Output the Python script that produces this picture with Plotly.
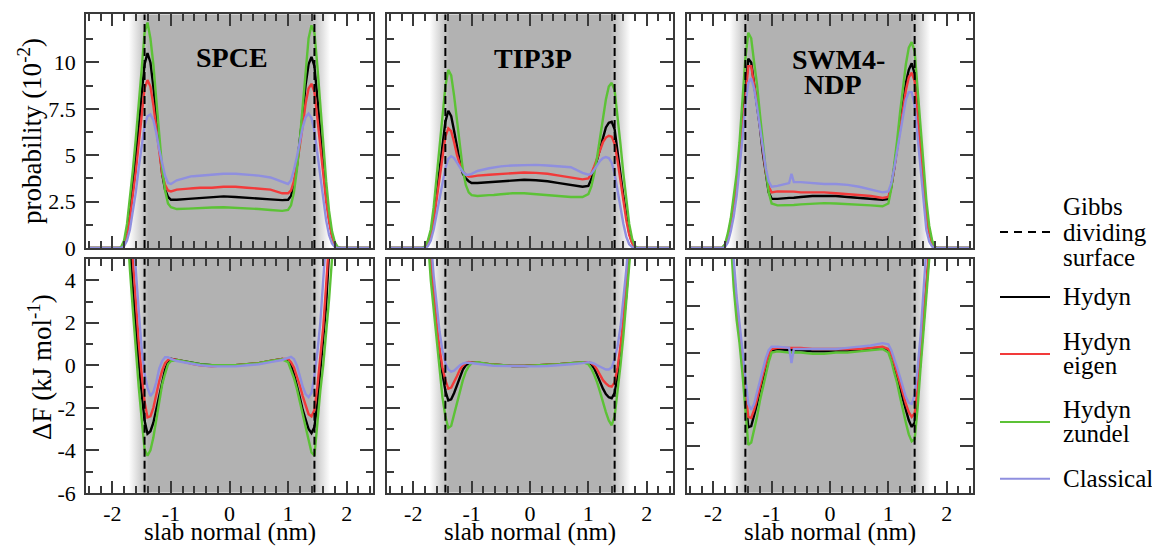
import plotly.graph_objects as go

# ---------------- data ----------------
X_P = [-2.4, -1.9, -1.85, -1.8, -1.75, -1.7, -1.65, -1.6, -1.55, -1.5, -1.45, -1.4, -1.35, -1.3, -1.25, -1.2, -1.15, -1.1, -1.05, -1.0,
       -0.9, -0.7, -0.66, -0.62, -0.5, -0.3, -0.1, 0.1, 0.3, 0.5, 0.7, 0.9,
       1.0, 1.05, 1.1, 1.15, 1.2, 1.25, 1.3, 1.35, 1.4, 1.45, 1.5, 1.55, 1.6, 1.65, 1.7, 1.75, 1.8, 1.85, 1.9, 2.4]

X_F = [-1.8, -1.75, -1.7, -1.65, -1.6, -1.55, -1.5, -1.45, -1.4, -1.35, -1.3, -1.25, -1.2, -1.15, -1.1, -1.05, -1.0,
       -0.9, -0.7, -0.66, -0.62, -0.5, -0.3, -0.1, 0.1, 0.3, 0.5, 0.7, 0.9,
       1.0, 1.05, 1.1, 1.15, 1.2, 1.25, 1.3, 1.35, 1.4, 1.45, 1.5, 1.55, 1.6, 1.65, 1.7, 1.75, 1.8]

# probability (10^-2)
SPCE_P_HYDYN = [0, 0, 0.02, 0.25, 0.9, 2.0, 3.4, 4.9, 6.5, 8.3, 9.9, 10.5, 10.0, 8.7, 7.0, 5.3, 4.0, 3.15, 2.75, 2.6,
                2.6, 2.65, 2.66, 2.67, 2.7, 2.75, 2.78, 2.75, 2.72, 2.68, 2.62, 2.58,
                2.6, 2.8, 3.4, 4.4, 5.7, 7.2, 8.8, 9.9, 10.3, 9.8, 8.1, 6.2, 4.5, 2.9, 1.6, 0.7, 0.2, 0.03, 0, 0]
SPCE_P_EIGEN = [0, 0, 0.02, 0.2, 0.7, 1.6, 2.8, 4.1, 5.6, 7.2, 8.6, 9.05, 8.7, 7.7, 6.4, 5.1, 4.0, 3.4, 3.1, 3.05,
                3.15, 3.2, 3.2, 3.22, 3.25, 3.25, 3.3, 3.3, 3.25, 3.2, 3.15, 2.95,
                2.95, 3.1, 3.6, 4.4, 5.4, 6.6, 7.8, 8.6, 8.85, 8.4, 7.0, 5.4, 3.9, 2.5, 1.4, 0.6, 0.15, 0.02, 0, 0]
SPCE_P_ZUNDEL = [0, 0, 0.05, 0.4, 1.3, 2.7, 4.2, 5.9, 7.6, 9.6, 11.6, 12.15, 11.3, 9.9, 8.0, 6.0, 4.3, 3.1, 2.4, 2.2,
                 2.1, 2.12, 2.13, 2.14, 2.15, 2.18, 2.2, 2.18, 2.15, 2.1, 2.05, 2.0,
                 2.05, 2.3, 3.0, 4.2, 5.8, 7.7, 9.7, 11.3, 12.0, 11.6, 9.8, 7.6, 5.4, 3.6, 2.0, 0.9, 0.3, 0.05, 0, 0]
SPCE_P_CLASSICAL = [0, 0, 0, 0.1, 0.4, 1.0, 1.9, 3.0, 4.3, 5.6, 6.6, 7.1, 7.2, 6.9, 6.2, 5.3, 4.5, 3.9, 3.5, 3.45,
                    3.65, 3.85, 3.86, 3.87, 3.9, 3.95, 4.0, 4.0, 3.95, 3.9, 3.8, 3.55,
                    3.45, 3.65, 4.2, 4.9, 5.7, 6.5, 7.05, 7.25, 7.0, 6.3, 5.1, 3.8, 2.6, 1.5, 0.7, 0.25, 0.05, 0, 0, 0]

TIP3P_P_HYDYN = [0, 0, 0, 0.05, 0.3, 0.8, 1.7, 2.9, 4.2, 5.6, 6.8, 7.4, 7.1, 6.3, 5.4, 4.6, 4.0, 3.75, 3.6, 3.5,
                 3.5, 3.55, 3.56, 3.57, 3.6, 3.65, 3.68, 3.65, 3.6, 3.5, 3.4, 3.3,
                 3.35, 3.7, 4.2, 4.8, 5.4, 6.0, 6.5, 6.75, 6.8, 6.4, 5.3, 4.0, 2.8, 1.7, 0.8, 0.3, 0.05, 0, 0, 0]
TIP3P_P_EIGEN = [0, 0, 0, 0.05, 0.25, 0.7, 1.5, 2.6, 3.8, 5.0, 6.0, 6.45, 6.3, 5.7, 5.0, 4.5, 4.1, 3.95, 3.85, 3.85,
                 3.9, 3.95, 3.96, 3.97, 4.0, 4.05, 4.07, 4.05, 4.0, 3.9, 3.8, 3.7,
                 3.75, 4.0, 4.4, 4.85, 5.3, 5.7, 5.95, 6.05, 6.0, 5.6, 4.7, 3.6, 2.5, 1.5, 0.7, 0.25, 0.05, 0, 0, 0]
TIP3P_P_ZUNDEL = [0, 0, 0, 0.1, 0.4, 1.0, 2.2, 3.8, 5.5, 7.2, 8.7, 9.6, 9.3, 8.2, 6.8, 5.4, 4.2, 3.4, 3.0, 2.85,
                  2.8, 2.85, 2.85, 2.86, 2.9, 2.95, 2.95, 2.9, 2.85, 2.8, 2.75, 2.75,
                  2.9, 3.3, 4.0, 4.9, 5.9, 7.0, 8.0, 8.7, 8.9, 8.5, 7.2, 5.6, 4.0, 2.5, 1.3, 0.5, 0.1, 0, 0, 0]
TIP3P_P_CLASSICAL = [0, 0, 0, 0, 0.1, 0.4, 1.0, 1.8, 2.7, 3.6, 4.3, 4.8, 4.95, 4.85, 4.6, 4.3, 4.1, 3.95, 3.95, 4.0,
                     4.15, 4.3, 4.32, 4.34, 4.4, 4.45, 4.48, 4.48, 4.45, 4.4, 4.35, 4.05,
                     3.95, 4.0, 4.2, 4.45, 4.7, 4.85, 4.9, 4.85, 4.6, 4.0, 3.1, 2.1, 1.3, 0.6, 0.2, 0.05, 0, 0, 0, 0]

SWM4_P_HYDYN = [0, 0, 0, 0.15, 0.6, 1.4, 2.4, 3.5, 5.0, 6.8, 8.8, 10.2, 10.0, 8.9, 7.8, 6.5, 5.1, 3.9, 3.0, 2.65,
                2.65, 2.7, 2.7, 2.71, 2.75, 2.8, 2.8, 2.8, 2.75, 2.7, 2.65, 2.6,
                2.65, 3.3, 4.3, 5.5, 6.7, 7.9, 8.9, 9.6, 9.95, 9.4, 7.6, 5.5, 3.6, 2.0, 0.9, 0.3, 0.05, 0, 0, 0]
SWM4_P_EIGEN = [0, 0, 0, 0.15, 0.55, 1.3, 2.3, 3.4, 4.9, 6.6, 8.5, 9.8, 9.8, 8.9, 7.8, 6.6, 5.3, 4.1, 3.3, 3.0,
                3.05, 3.05, 3.05, 3.04, 3.0, 3.0, 3.0, 2.95, 2.9, 2.85, 2.8, 2.7,
                2.75, 3.3, 4.2, 5.3, 6.4, 7.5, 8.5, 9.2, 9.45, 9.0, 7.4, 5.4, 3.5, 1.9, 0.8, 0.25, 0.05, 0, 0, 0]
SWM4_P_ZUNDEL = [0, 0, 0, 0.2, 0.8, 1.6, 2.7, 4.0, 5.7, 7.8, 10.2, 11.6, 11.3, 10.0, 8.8, 7.2, 5.6, 4.2, 3.0, 2.4,
                 2.3, 2.3, 2.3, 2.32, 2.35, 2.4, 2.42, 2.4, 2.38, 2.35, 2.3, 2.25,
                 2.4, 3.2, 4.4, 5.8, 7.3, 8.7, 9.9, 10.8, 11.1, 10.6, 8.8, 6.6, 4.6, 2.6, 1.2, 0.4, 0.05, 0, 0, 0]
SWM4_P_CLASSICAL = [0, 0, 0, 0.05, 0.3, 0.9, 1.7, 2.8, 4.2, 5.9, 7.7, 8.9, 9.15, 8.6, 7.6, 6.5, 5.3, 4.3, 3.6, 3.3,
                    3.35, 3.5, 4.0, 3.55, 3.55, 3.5, 3.45, 3.45, 3.4, 3.3, 3.15, 3.0,
                    3.05, 3.5, 4.3, 5.2, 6.2, 7.2, 8.0, 8.4, 8.4, 7.7, 6.0, 4.0, 2.3, 1.0, 0.35, 0.08, 0, 0, 0, 0]

# free energy (kJ/mol)
SPCE_F_HYDYN = [10, 7.5, 5.6, 3.6, 1.8, 0.15, -1.3, -2.6, -3.22, -3.1, -2.7, -2.1, -1.4, -0.8, -0.2, 0.15, 0.3,
                0.25, 0.15, 0.13, 0.12, 0.05, 0.0, 0.0, 0.0, 0.05, 0.1, 0.2, 0.3,
                0.25, 0.0, -0.4, -0.9, -1.5, -2.1, -2.6, -3.0, -3.19, -2.9, -1.8, -0.3, 1.2, 2.8, 5.3, 7.5, 10]
SPCE_F_EIGEN = [11, 8.5, 6.6, 5.0, 3.0, 1.1, -0.4, -1.7, -2.45, -2.4, -2.0, -1.3, -0.75, -0.25, 0.1, 0.25, 0.3,
                0.25, 0.1, 0.08, 0.06, 0.0, -0.05, 0.0, 0.0, 0.05, 0.1, 0.2, 0.3,
                0.3, 0.15, -0.1, -0.5, -0.95, -1.45, -1.9, -2.3, -2.4, -2.1, -1.0, 0.3, 1.8, 3.8, 5.8, 8.0, 10]
SPCE_F_ZUNDEL = [9, 6.5, 4.5, 2.6, 0.6, -1.0, -2.5, -3.95, -4.25, -4.0, -3.4, -2.5, -1.6, -0.9, -0.4, 0.05, 0.2,
                 0.25, 0.15, 0.13, 0.11, 0.05, 0.0, 0.0, 0.0, 0.05, 0.1, 0.2, 0.28,
                 0.15, -0.2, -0.6, -1.1, -1.7, -2.3, -3.0, -3.6, -4.1, -4.25, -2.6, -1.2, 0.0, 1.5, 3.1, 5.0, 7.5]
SPCE_F_CLASSICAL = [12, 10, 8, 6.3, 4.5, 2.6, 0.8, -0.4, -1.05, -1.45, -1.25, -0.8, -0.15, 0.2, 0.38, 0.38, 0.3,
                    0.2, 0.1, 0.08, 0.06, 0.0, -0.05, -0.05, -0.05, 0.0, 0.05, 0.15, 0.25,
                    0.35, 0.4, 0.3, 0.0, -0.5, -1.0, -1.35, -1.5, -1.3, -0.5, 0.6, 2.0, 4.0, 5.8, 7.7, 10, 12]

TIP3P_F_HYDYN = [9.5, 6.5, 4.6, 3.0, 1.6, 0.4, -0.5, -1.2, -1.65, -1.6, -1.3, -0.9, -0.5, -0.2, 0.0, 0.1, 0.12,
                 0.12, 0.05, 0.04, 0.03, 0.0, -0.03, -0.03, 0.0, 0.0, 0.05, 0.1, 0.15,
                 0.15, 0.05, -0.15, -0.45, -0.8, -1.1, -1.35, -1.5, -1.55, -1.3, -0.5, 0.6, 1.9, 3.3, 4.8, 6.5, 9]
TIP3P_F_EIGEN = [10, 7, 5.0, 3.4, 2.0, 0.8, -0.1, -0.7, -1.1, -1.05, -0.8, -0.5, -0.2, 0.0, 0.1, 0.15, 0.12,
                 0.12, 0.05, 0.04, 0.03, 0.0, -0.03, -0.03, 0.0, 0.0, 0.05, 0.1, 0.15,
                 0.15, 0.1, 0.0, -0.2, -0.45, -0.7, -0.85, -0.97, -1.0, -0.8, -0.1, 0.9, 2.2, 3.6, 5.1, 7, 9.5]
TIP3P_F_ZUNDEL = [9, 6, 4.0, 2.6, 1.0, -0.4, -1.5, -2.4, -2.95, -2.85, -2.3, -1.8, -1.2, -0.7, -0.3, -0.05, 0.1,
                  0.15, 0.05, 0.04, 0.03, 0.0, -0.03, -0.03, 0.0, 0.0, 0.05, 0.1, 0.15,
                  0.05, -0.15, -0.45, -0.8, -1.25, -1.75, -2.2, -2.6, -2.82, -2.4, -1.3, 0.0, 1.4, 2.9, 4.2, 5.6, 8]
TIP3P_F_CLASSICAL = [12, 9, 6.0, 4.2, 2.8, 1.6, 0.7, 0.1, -0.2, -0.3, -0.25, -0.1, 0.0, 0.08, 0.12, 0.12, 0.1,
                     0.05, 0.0, -0.01, -0.02, -0.03, -0.05, -0.05, -0.05, -0.03, 0.0, 0.05, 0.1,
                     0.15, 0.12, 0.08, 0.0, -0.08, -0.15, -0.2, -0.2, -0.1, 0.3, 0.9, 1.8, 3.0, 4.5, 6.2, 8.5, 11]

SWM4_F_HYDYN = [10, 7.5, 5.2, 3.4, 1.9, 0.7, -0.5, -2.0, -3.2, -3.15, -2.7, -2.2, -1.6, -1.1, -0.6, -0.2, 0.1,
                0.15, 0.1, 0.1, 0.1, 0.1, 0.05, 0.05, 0.05, 0.05, 0.1, 0.15, 0.2,
                0.1, -0.2, -0.6, -1.0, -1.5, -2.0, -2.5, -2.9, -3.18, -3.0, -1.9, -0.4, 1.1, 2.7, 4.3, 6.5, 9]
SWM4_F_EIGEN = [10, 7.5, 5.3, 3.5, 2.0, 0.8, -0.4, -1.7, -2.75, -2.8, -2.45, -2.0, -1.45, -0.95, -0.5, -0.1, 0.15,
                0.2, 0.2, 0.2, 0.2, 0.2, 0.15, 0.15, 0.15, 0.15, 0.15, 0.2, 0.25,
                0.15, -0.1, -0.45, -0.85, -1.3, -1.75, -2.2, -2.55, -2.75, -2.6, -1.6, -0.2, 1.3, 2.9, 4.5, 6.5, 9]
SWM4_F_ZUNDEL = [9, 7, 4.8, 2.8, 1.4, 0.4, -0.9, -2.6, -3.95, -3.85, -3.3, -2.75, -2.05, -1.5, -0.9, -0.4, 0.0,
                 0.05, 0.0, 0.0, 0.0, 0.0, -0.05, -0.05, 0.0, 0.0, 0.05, 0.1, 0.15,
                 0.0, -0.35, -0.85, -1.3, -1.9, -2.5, -3.0, -3.5, -3.8, -3.7, -2.4, -0.7, 0.7, 2.4, 4.0, 6, 8.5]
SWM4_F_CLASSICAL = [11, 8.5, 6.0, 4.0, 2.4, 1.2, 0.0, -1.2, -2.2, -2.45, -2.2, -1.7, -1.2, -0.7, -0.25, 0.1, 0.25,
                    0.25, 0.2, -0.45, 0.15, 0.15, 0.15, 0.15, 0.15, 0.2, 0.25, 0.3, 0.4,
                    0.35, 0.1, -0.25, -0.65, -1.05, -1.5, -1.9, -2.15, -2.2, -1.8, -0.7, 0.7, 2.2, 3.8, 5.5, 7.5, 10]

MODEL_TITLES = [["SPCE"], ["TIP3P"], ["SWM4-", "NDP"]]
SERIES_NAMES = ["Hydyn", "Hydyn eigen", "Hydyn zundel", "Classical"]
LEGEND_LINES = [["Gibbs", "dividing", "surface"], ["Hydyn"], ["Hydyn", "eigen"], ["Hydyn", "zundel"], ["Classical"]]
COLORS = ["#000000", "#f23a3a", "#5cc236", "#8f8fdf"]

PROB = [[SPCE_P_HYDYN, SPCE_P_EIGEN, SPCE_P_ZUNDEL, SPCE_P_CLASSICAL],
        [TIP3P_P_HYDYN, TIP3P_P_EIGEN, TIP3P_P_ZUNDEL, TIP3P_P_CLASSICAL],
        [SWM4_P_HYDYN, SWM4_P_EIGEN, SWM4_P_ZUNDEL, SWM4_P_CLASSICAL]]
FREE = [[SPCE_F_HYDYN, SPCE_F_EIGEN, SPCE_F_ZUNDEL, SPCE_F_CLASSICAL],
        [TIP3P_F_HYDYN, TIP3P_F_EIGEN, TIP3P_F_ZUNDEL, TIP3P_F_CLASSICAL],
        [SWM4_F_HYDYN, SWM4_F_EIGEN, SWM4_F_ZUNDEL, SWM4_F_CLASSICAL]]

GIBBS_X = [-1.45, 1.45]
SHADE_X = [-1.72, -1.38, 1.38, 1.72]

X_RANGE = [-2.45, 2.45]
X_TICKS = [-2, -1, 0, 1, 2]
X_TICK_TEXT = ["-2", "-1", "0", "1", "2"]
P_RANGE = [0, 12.6]
P_TICKS = [0, 2.5, 5, 7.5, 10]
P_TICK_TEXT = ["0", "2.5", "5", "7.5", "10"]
F_RANGES = [[-6, 5], [-6, 5], [-6, 4]]
F_TICKS = [-6, -4, -2, 0, 2, 4]
F_TICK_TEXT = ["-6", "-4", "-2", "0", "2", "4"]

# ---------------- layout geometry ----------------
# The page keeps the browser's default 8px body margin; the captured page is
# about 560px tall and is brought to 547px, so vertical positions are given in
# target-picture pixels and mapped onto that taller page.
TARGET_H = 547
PAGE_W, PAGE_H, BODY_M = 1160, 560, 8
W, H = PAGE_W - 2 * BODY_M, PAGE_H - 2 * BODY_M
YS = PAGE_H / TARGET_H
COL_PX = [(86, 373), (387, 673), (687, 973)]
ROW_PX = [(14, 248), (259, 493)]
FONT = "Liberation Serif, Times New Roman, serif"
AXC = "#3a3a3a"
SHADE_COLOR = "rgb(178,178,178)"


def px(x):
    return (x - BODY_M) / W


def py(y):
    return 1 - (y * YS - BODY_M) / H


fig = go.Figure()
layout = dict(width=W, height=H, margin=dict(l=0, r=0, t=0, b=0),
              paper_bgcolor="white", plot_bgcolor="white", showlegend=False,
              font=dict(family=FONT, size=22, color="black"))

minor_x = [round(-2.4 + 0.2 * i, 1) for i in range(25)]
minor_x = [v for v in minor_x if abs(v - round(v)) > 1e-6]
minor_p = [1.25, 3.75, 6.25, 8.75, 11.25]
minor_f = [-5, -3, -1, 1, 3, 5]

s = (SHADE_X[1] - SHADE_X[0]) / (SHADE_X[3] - SHADE_X[0])

for r in range(2):
    for c in range(3):
        k = r * 3 + c + 1
        xa = "x" if k == 1 else f"x{k}"
        ya = "y" if k == 1 else f"y{k}"
        yr = P_RANGE if r == 0 else F_RANGES[c]
        # shaded slab region
        fig.add_trace(go.Scatter(
            x=[SHADE_X[0], SHADE_X[3], SHADE_X[3], SHADE_X[0], SHADE_X[0]],
            y=[yr[0], yr[0], yr[1], yr[1], yr[0]],
            xaxis=xa, yaxis=ya, mode="lines", line=dict(width=0),
            fill="toself",
            fillgradient=dict(type="horizontal", colorscale=[
                [0, "rgb(255,255,255)"], [s, SHADE_COLOR], [1 - s, SHADE_COLOR], [1, "rgb(255,255,255)"]]),
            hoverinfo="skip"))
        xs = X_P if r == 0 else X_F
        data = PROB[c] if r == 0 else FREE[c]
        for j in range(4):
            fig.add_trace(go.Scatter(x=xs, y=data[j], xaxis=xa, yaxis=ya, mode="lines",
                                     name=SERIES_NAMES[j],
                                     line=dict(color=COLORS[j], width=2.4), cliponaxis=True))
        for g in GIBBS_X:
            fig.add_trace(go.Scatter(x=[g, g], y=yr, xaxis=xa, yaxis=ya, mode="lines",
                                     line=dict(color="black", width=2, dash="8px,4px"),
                                     hoverinfo="skip"))
        x0, x1 = COL_PX[c]
        y0, y1 = ROW_PX[r]
        layout["xaxis" if k == 1 else f"xaxis{k}"] = dict(
            domain=[px(x0), px(x1)], range=X_RANGE, anchor=ya,
            showline=True, linecolor=AXC, linewidth=1.5, mirror="ticks",
            ticks="inside", ticklen=12, tickwidth=1.5, tickcolor=AXC,
            tickmode="array", tickvals=X_TICKS, ticktext=X_TICK_TEXT,
            showticklabels=(r == 1), ticklabelstandoff=0,
            tickfont=dict(family=FONT, size=22, color="black"),
            minor=dict(tickmode="array", tickvals=minor_x, ticks="inside", ticklen=7, tickwidth=1.5, tickcolor=AXC),
            showgrid=False, zeroline=False, fixedrange=True)
        layout["yaxis" if k == 1 else f"yaxis{k}"] = dict(
            domain=[py(y1), py(y0)], range=yr, anchor=xa,
            showline=True, linecolor=AXC, linewidth=1.5, mirror="ticks",
            ticks="inside", ticklen=13, tickwidth=1.5, tickcolor=AXC,
            tickmode="array",
            tickvals=P_TICKS if r == 0 else F_TICKS,
            ticktext=P_TICK_TEXT if r == 0 else F_TICK_TEXT,
            showticklabels=(c == 0), ticklabelstandoff=4,
            tickfont=dict(family=FONT, size=22, color="black"),
            minor=dict(tickmode="array", tickvals=minor_p if r == 0 else minor_f,
                       ticks="inside", ticklen=7, tickwidth=1.5, tickcolor=AXC),
            showgrid=False, zeroline=False, fixedrange=True)

annotations = []
# model titles
title_pos = [[(232, 57)], [(533, 58)], [(838, 59), (833, 84)]]
for c in range(3):
    for t, (tx, ty) in zip(MODEL_TITLES[c], title_pos[c]):
        annotations.append(dict(text=t, x=px(tx), y=py(ty), xref="paper", yref="paper",
                                showarrow=False, xanchor="center", yanchor="middle",
                                font=dict(family=FONT, size=28, color="black", weight="bold")))
# axis titles
annotations.append(dict(text="probability (10<sup>-2</sup>)", x=px(30), y=py(131), xref="paper", yref="paper",
                        showarrow=False, textangle=-90, xanchor="center", yanchor="middle",
                        font=dict(family=FONT, size=27, color="black")))
annotations.append(dict(text="ΔF (kJ mol<sup>-1</sup>)", x=px(40), y=py(367), xref="paper", yref="paper",
                        showarrow=False, textangle=-90, xanchor="center", yanchor="middle",
                        font=dict(family=FONT, size=27, color="black")))
for c in range(3):
    cx = (COL_PX[c][0] + COL_PX[c][1]) / 2
    annotations.append(dict(text="slab normal (nm)", x=px(cx), y=py(532), xref="paper", yref="paper",
                            showarrow=False, xanchor="center", yanchor="middle",
                            font=dict(family=FONT, size=25, color="black")))

# legend (drawn manually to match the stacked multi-line entries)
legend_text_y = [[206, 232, 257], [297], [342, 366], [410, 434], [479]]
legend_line_y = [232, 297, 354, 422, 479]
legend_styles = [("black", "8px,6px"), (COLORS[0], "solid"), (COLORS[1], "solid"),
                 (COLORS[2], "solid"), (COLORS[3], "solid")]
shapes = []
for i, lines in enumerate(LEGEND_LINES):
    for t, ty in zip(lines, legend_text_y[i]):
        annotations.append(dict(text=t, x=px(1061), y=py(ty), xref="paper", yref="paper",
                                showarrow=False, xanchor="left", yanchor="middle",
                                font=dict(family=FONT, size=25, color="black")))
    col, dash = legend_styles[i]
    shapes.append(dict(type="line", xref="paper", yref="paper",
                       x0=px(1000), x1=px(1050), y0=py(legend_line_y[i]), y1=py(legend_line_y[i]),
                       line=dict(color=col, width=2, dash=dash)))

layout["annotations"] = annotations
layout["shapes"] = shapes
fig.update_layout(**layout)

fig.write_html("out.html", config={"displayModeBar": False},
               post_script="document.querySelectorAll('.main-svg').forEach(function(s){s.style.overflow='visible';});")
